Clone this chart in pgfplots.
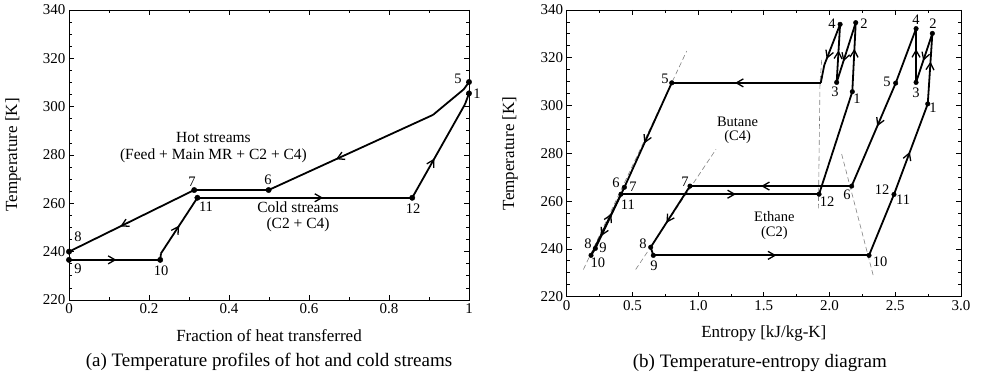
\documentclass[border=0pt]{standalone}
\usepackage{fontspec}
\setmainfont{Liberation Serif}
\usepackage{pgfplots}
\pgfplotsset{compat=1.18}
\usetikzlibrary{arrows.meta,decorations.markings}

\tikzset{arr/.style={postaction={decorate,decoration={markings,mark=at position #1 with {\arrow{Straight Barb[length=7pt,width=8pt,line width=1.3pt]}}}}}}
\newcommand{\lab}{\fontsize{14.5}{16}\selectfont}
\newcommand{\annA}{\fontsize{15.5}{17}\selectfont}
\newcommand{\annC}{\fontsize{15.5}{16}\selectfont}
\newcommand{\annB}{\fontsize{14.5}{14.5}\selectfont}
\newcommand{\capt}{\fontsize{19}{21}\selectfont}

\pgfplotsset{myax/.style={
  scale only axis, clip=false,
  axis line style={line width=0.9pt},
  tick style={line width=0.8pt, black},
  major tick length=5pt, minor tick length=3pt, tick align=inside,
  ticklabel style={font=\fontsize{15}{17}\selectfont},
  /pgf/number format/assume math mode=true,
  label style={font=\fontsize{17}{20}\selectfont},
  ymin=220, ymax=340, ytick={220,240,...,340}, minor y tick num=3,
},
lnA/.style={black, line width=1.8pt, no marks},
lnB/.style={black, line width=1.8pt, no marks},
sat/.style={gray, line width=0.6pt, dash pattern=on 5pt off 3pt, no marks}}

\begin{document}
\begin{tikzpicture}
\useasboundingbox (0,0) rectangle (981pt,377pt);

% ---------------- (a) ----------------
\begin{axis}[myax, at={(69pt,77pt)}, anchor=south west,
  width=400pt, height=290pt,
  xmin=0, xmax=1, xtick={0,0.2,0.4,0.6,0.8,1}, xticklabels={0,0.2,0.4,0.6,0.8,1},
  minor x tick num=1,
  xlabel={Fraction of heat transferred}, ylabel={Temperature [K]},
  xlabel style={at={(axis description cs:0.5,-0.1241)}, anchor=center},
  ylabel style={at={(axis description cs:-0.14,0.5)}, anchor=center},
]
% hot streams
\addplot[lnA] coordinates {(1.0,310.2) (0.987,307.2) (0.91,296.6)};
\addplot[lnA, arr=0.59] coordinates {(0.91,296.6) (0.499,265.5)};
\addplot[lnA] coordinates {(0.499,265.5) (0.313,265.5)};
\addplot[lnA, arr=0.59] coordinates {(0.313,265.5) (0,240)};
% cold streams
\addplot[lnA, arr=0.52] coordinates {(0,236.6) (0.228,236.6)};
\addplot[lnA] coordinates {(0.228,236.6) (0.230,239.3)};
\addplot[lnA, arr=0.5] coordinates {(0.230,239.3) (0.321,262.3)};
\addplot[lnA, arr=0.585] coordinates {(0.321,262.3) (0.858,262.3)};
\addplot[lnA, arr=0.42] coordinates {(0.858,262.3) (0.99,301)};
\addplot[lnA] coordinates {(0.99,301) (1.0,305.5)};
% points
\addplot[only marks, mark=*, mark size=2.7pt, mark options={fill=black, draw=black}] coordinates {
 (1.0,305.5) (1.0,310.2) (0.499,265.5) (0.313,265.5) (0,240) (0,236.6)
 (0.228,236.6) (0.321,262.3) (0.858,262.3)};
\node[font=\lab] at (axis cs:0.9725,311.4) {5};
\node[font=\lab] at (axis cs:1.02,305.2) {1};
\node[font=\lab] at (axis cs:0.3075,268.8) {7};
\node[font=\lab] at (axis cs:0.4975,269.7) {6};
\node[font=\lab] at (axis cs:0.3425,258.5) {11};
\node[font=\lab] at (axis cs:0.86,257.7) {12};
\node[font=\lab] at (axis cs:0.0225,246.1) {8};
\node[font=\lab] at (axis cs:0.0225,232.8) {9};
\node[font=\lab] at (axis cs:0.23,232.0) {10};
\node[font=\annA, align=center] at (axis cs:0.3612,283.1) {Hot streams\\(Feed + Main MR + C2 + C4)};
\node[font=\annC, align=center] at (axis cs:0.5725,254.3) {Cold streams\\(C2 + C4)};
\node[font=\capt] at (axis description cs:0.5,-0.2138) {(a) Temperature profiles of hot and cold streams};
\end{axis}

% ---------------- (b) ----------------
\begin{axis}[myax, at={(566.7pt,80.3pt)}, anchor=south west,
  width=394.3pt, height=286.7pt,
  xmin=0, xmax=3, xtick={0,0.5,1,1.5,2,2.5,3}, xticklabels={0,0.5,1.0,1.5,2.0,2.5,3.0},
  minor x tick num=1,
  xlabel={Entropy [kJ/kg-K]}, ylabel={Temperature [K]},
  xlabel style={at={(axis description cs:0.5,-0.1266)}, anchor=center},
  ylabel style={at={(axis description cs:-0.1438,0.5)}, anchor=center},
]
% saturation lines
\addplot[sat] coordinates {(0.127,231.4) (0.913,322.8)};
\addplot[sat] coordinates {(1.940,319.1) (1.927,309.3) (1.915,257.0)};
\addplot[sat] coordinates {(0.525,231.4) (1.136,281.7)};
\addplot[sat] coordinates {(2.092,279.7) (2.333,228.7)};
% butane (C4)
\addplot[lnB] coordinates {(1.920,262.9) (2.173,305.8)};
\addplot[lnB, arr=0.62] coordinates {(2.173,305.8) (2.199,334.7)};
\addplot[lnB, arr=0.65] coordinates {(2.199,334.7) (2.054,309.7)};
\addplot[lnB, arr=0.55] coordinates {(2.054,309.7) (2.080,334.0)};
\addplot[lnB, arr=0.85] coordinates {(2.080,334.0) (1.960,317.0)};
\addplot[lnB] coordinates {(1.960,317.0) (1.933,309.5)};
\addplot[lnB, arr=0.575] coordinates {(1.933,309.5) (0.799,309.5)};
\addplot[lnB, arr=0.58] coordinates {(0.799,309.5) (0.439,265.8)};
\addplot[lnB, arr=0.8] coordinates {(0.439,265.8) (0.218,240.2)};
\addplot[lnB] coordinates {(0.218,240.2) (0.185,237.3)};
\addplot[lnB, arr=0.68] coordinates {(0.185,237.3) (0.413,262.9)};
\addplot[lnB, arr=0.58] coordinates {(0.413,262.9) (1.920,262.9)};
% ethane (C2)
\addplot[lnB] coordinates {(2.300,237.3) (2.490,262.8)};
\addplot[lnB, arr=0.47] coordinates {(2.490,262.8) (2.747,300.7)};
\addplot[lnB, arr=0.6] coordinates {(2.747,300.7) (2.782,330.2)};
\addplot[lnB, arr=0.56] coordinates {(2.782,330.2) (2.658,309.7)};
\addplot[lnB, arr=0.62] coordinates {(2.658,309.7) (2.658,332.2)};
\addplot[lnB] coordinates {(2.658,332.2) (2.503,309.4)};
\addplot[lnB, arr=0.42] coordinates {(2.503,309.4) (2.168,266.3)};
\addplot[lnB, arr=0.56] coordinates {(2.168,266.3) (0.938,266.3)};
\addplot[lnB, arr=0.6] coordinates {(0.938,266.3) (0.639,240.7)};
\addplot[lnB] coordinates {(0.639,240.7) (0.659,237.3)};
\addplot[lnB, arr=0.57] coordinates {(0.659,237.3) (2.300,237.3)};
% points
\addplot[only marks, mark=*, mark size=2.3pt, mark options={fill=black, draw=black}] coordinates {
 (2.173,305.8) (2.199,334.7) (2.054,309.7) (2.080,334.0) (0.799,309.5) (0.439,265.8)
 (0.218,240.2) (0.185,237.3) (0.413,262.9) (1.920,262.9)
 (2.747,300.7) (2.782,330.2) (2.658,309.7) (2.658,332.2) (2.503,309.4) (2.168,266.3)
 (0.938,266.3) (0.639,240.7) (0.659,237.3) (2.300,237.3) (2.490,262.8)};
% butane labels
\node[font=\lab] at (axis cs:2.019,334.1) {4};
\node[font=\lab] at (axis cs:2.262,334.1) {2};
\node[font=\lab] at (axis cs:2.041,305.7) {3};
\node[font=\lab] at (axis cs:2.209,302.7) {1};
\node[font=\lab] at (axis cs:0.748,311.1) {5};
\node[font=\lab] at (axis cs:0.375,267.6) {6};
\node[font=\lab] at (axis cs:0.505,265.9) {7};
\node[font=\lab] at (axis cs:0.466,258.4) {11};
\node[font=\lab] at (axis cs:0.162,242.1) {8};
\node[font=\lab] at (axis cs:0.276,240.4) {9};
\node[font=\lab] at (axis cs:0.238,234.1) {10};
\node[font=\lab] at (axis cs:1.981,259.6) {12};
% ethane labels
\node[font=\lab] at (axis cs:2.657,335.8) {4};
\node[font=\lab] at (axis cs:2.787,334.1) {2};
\node[font=\lab] at (axis cs:2.437,309.9) {5};
\node[font=\lab] at (axis cs:2.657,305.3) {3};
\node[font=\lab] at (axis cs:2.787,299.0) {1};
\node[font=\lab] at (axis cs:2.399,264.7) {12};
\node[font=\lab] at (axis cs:2.559,260.5) {11};
\node[font=\lab] at (axis cs:2.133,262.6) {6};
\node[font=\lab] at (axis cs:0.900,268.0) {7};
\node[font=\lab] at (axis cs:0.580,242.1) {8};
\node[font=\lab] at (axis cs:0.664,232.8) {9};
\node[font=\lab] at (axis cs:2.384,234.5) {10};
\node[font=\annB, align=center] at (axis cs:1.30,289.6) {Butane\\(C4)};
\node[font=\annB, align=center] at (axis cs:1.58,249.8) {Ethane\\(C2)};
\node[font=\capt] at (axis description cs:0.490,-0.2313) {(b) Temperature-entropy diagram};
\end{axis}
\end{tikzpicture}
\end{document}
